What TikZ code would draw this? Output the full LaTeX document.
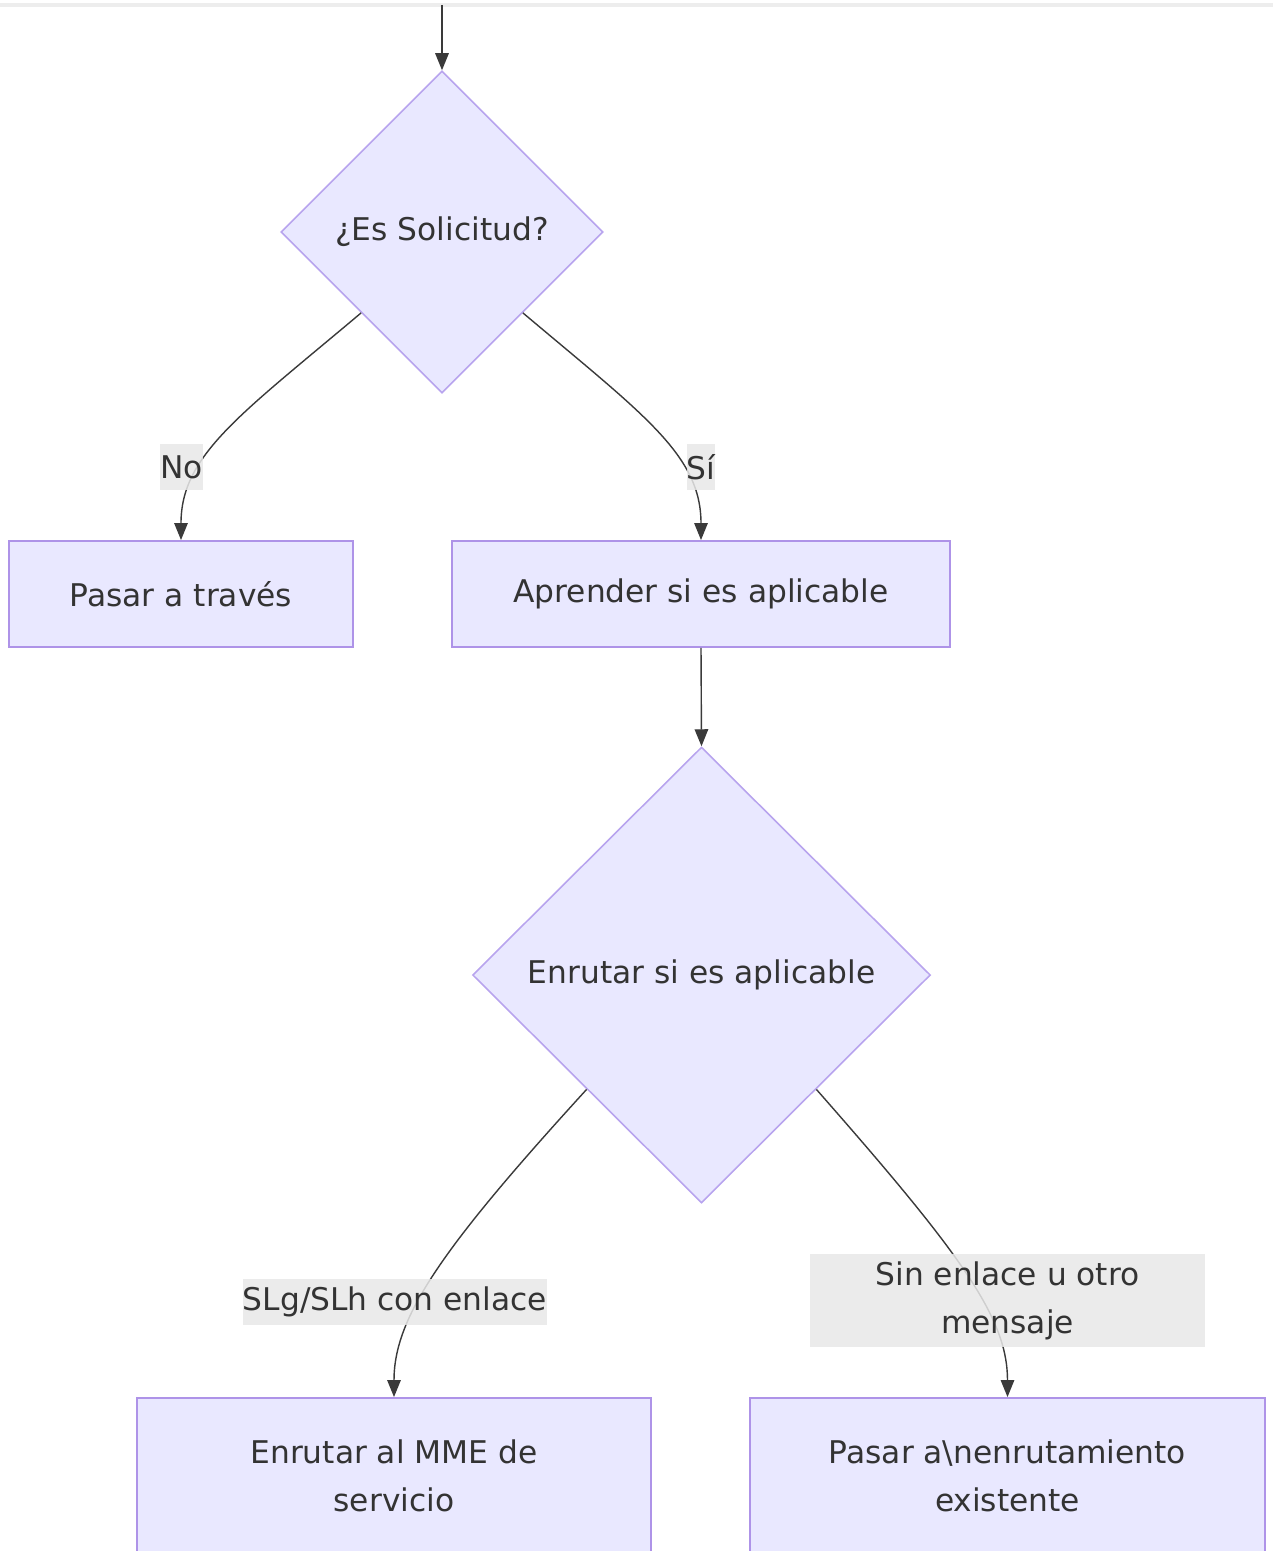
\documentclass[tikz,border=0pt]{standalone}
\usepackage{fontspec}
\setmainfont{DejaVu Sans}
\usetikzlibrary{shapes.geometric,arrows.meta}

\definecolor{nodefill}{HTML}{E9E8FF}
\definecolor{boxline}{HTML}{AE93E8}
\definecolor{diamline}{HTML}{B8A4EE}
\definecolor{inktext}{HTML}{333333}
\definecolor{edgeink}{HTML}{3A3A3A}
\definecolor{labelbg}{HTML}{E8E8E8}

\tikzset{
  basetext/.style={text=inktext, font=\fontsize{17.8}{27.2}\selectfont, align=center},
  procbox/.style={basetext, draw=boxline, fill=nodefill, line width=1.1pt,
    rectangle, inner sep=0pt},
  decision/.style={basetext, draw=diamline, fill=nodefill, line width=0.9pt,
    diamond, aspect=1, inner sep=0pt},
  flow/.style={draw=edgeink, line width=0.8pt,
    -{Triangle[length=0.34cm,width=0.27cm]}},
  edgelabel/.style={basetext, fill=labelbg, fill opacity=0.85, text opacity=1,
    inner xsep=0pt, inner ysep=0pt, minimum height=0.92cm},
}

\begin{document}
\begin{tikzpicture}[x=0.02cm, y=-0.02cm]
  \useasboundingbox (0,0) rectangle (1273,1551);

  % faint frame edge along the top
  \draw[line width=2.5pt, color=black!7] (0,5) -- (1273,5);

  % nodes
  \coordinate (start) at (442,5);
  \node[decision, minimum width=6.44cm, minimum height=6.44cm] (q1) at (442,232) {¿Es Solicitud?};
  \node[procbox, minimum width=6.88cm, minimum height=2.12cm] (pass) at (181,594) {Pasar a través};
  \node[procbox, minimum width=9.96cm, minimum height=2.12cm] (learn) at (701,594) {Aprender si es aplicable};
  \node[decision, minimum width=9.16cm, minimum height=9.12cm] (q2) at (701.5,975) {Enrutar si es aplicable};
  \node[procbox, minimum width=10.28cm, minimum height=3.12cm] (mme) at (394,1476) {Enrutar al MME de\\servicio};
  \node[procbox, minimum width=10.30cm, minimum height=3.12cm] (exist) at (1007.5,1476) {Pasar a\textbackslash{}nenrutamiento\\existente};

  % connectors
  \draw[flow] (start) -- (q1.north);
  \draw[flow] (q1.south west) .. controls (240,415) and (181,455) .. (pass.north);
  \draw[flow] (q1.south east) .. controls (644,415) and (701,455) .. (learn.north);
  \draw[flow] (learn.south) -- (q2.north);
  \draw[flow] (q2.south west) .. controls (440,1250) and (394,1318) .. (mme.north);
  \draw[flow] (q2.south east) .. controls (962,1255) and (1007.5,1318) .. (exist.north);

  % edge labels
  \node[edgelabel] (lno) at (181.5,467) {No};
  \node[edgelabel] (lsi) at (701,467) {Sí};
  \node[edgelabel] (lslg) at (395,1301.5) {SLg/SLh con enlace};
  \node[edgelabel, minimum width=7.9cm, minimum height=1.86cm] (lsin) at (1007.5,1300.5) {Sin enlace u otro\\mensaje};
\end{tikzpicture}
\end{document}
